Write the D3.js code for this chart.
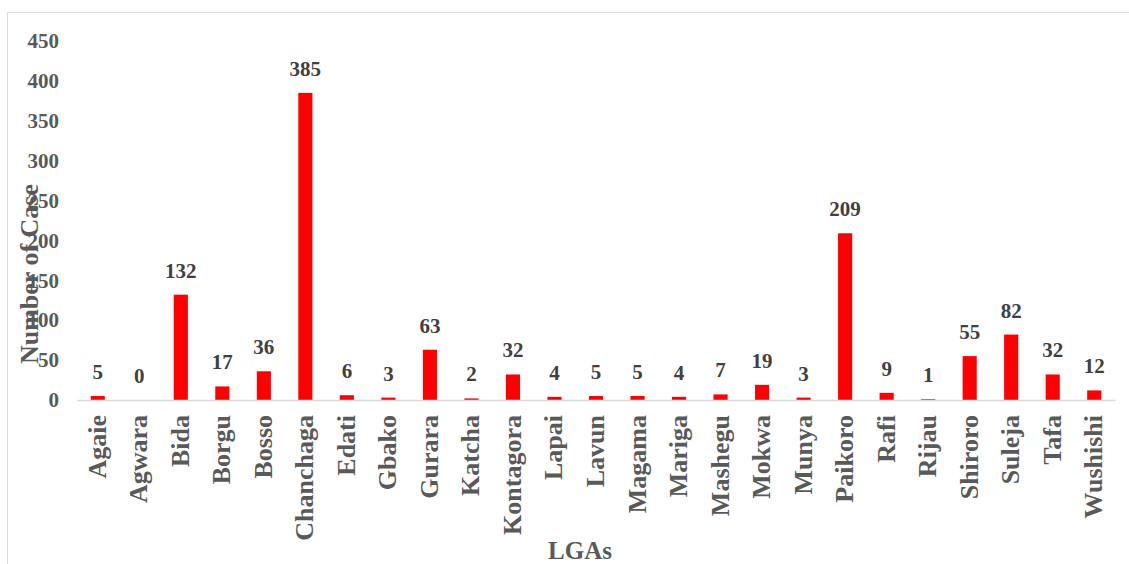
<!DOCTYPE html>
<html>
<head>
<meta charset="utf-8">
<script src="https://cdn.jsdelivr.net/npm/d3@7"></script>
<style>
  html, body { margin: 0; padding: 0; background: #fff; }
  svg { display: block; }
</style>
</head>
<body>
<svg id="chart" width="1129" height="564"></svg>
<script>
// Cases per Local Government Area
const lgas = ["Agaie","Agwara","Bida","Borgu","Bosso","Chanchaga","Edati","Gbako","Gurara","Katcha",
  "Kontagora","Lapai","Lavun","Magama","Mariga","Mashegu","Mokwa","Munya","Paikoro","Rafi",
  "Rijau","Shiroro","Suleja","Tafa","Wushishi"];
const cases = [5,0,132,17,36,385,6,3,63,2,32,4,5,5,4,7,19,3,209,9,1,55,82,32,12];
const yTicks = [0,50,100,150,200,250,300,350,400,450];

const font = (size) => `font-family:'Liberation Serif';font-weight:bold;font-size:${size}px`;

const svg = d3.select("#chart");

// outer frame (only top and left edges fall inside the view)
svg.append("rect")
  .attr("x", 7.5).attr("y", 12.5)
  .attr("width", 1140).attr("height", 600)
  .attr("fill", "none").attr("stroke", "#d9d9d9").attr("stroke-width", 1);

const x = d3.scaleBand().domain(lgas).range([77, 1115]).paddingInner(0.66).paddingOuter(0.33);
const y = d3.scaleLinear().domain([0, 450]).range([400, 41]);

// y tick labels (no axis line)
const yAxis = d3.axisLeft(y).tickValues(yTicks).tickSize(0).tickPadding(0);
const gy = svg.append("g").attr("transform", "translate(59,0)").call(yAxis);
gy.select(".domain").remove();
gy.selectAll("text")
  .attr("fill", "#595959")
  .attr("style", font(21));

// bars
svg.append("g").selectAll("rect").data(lgas).join("rect")
  .attr("x", (d) => x(d))
  .attr("width", x.bandwidth())
  .attr("y", (d, i) => y(cases[i]))
  .attr("height", (d, i) => y(0) - y(cases[i]))
  .attr("fill", "#ff0000");

// baseline and category labels
const xAxis = d3.axisBottom(x).tickSize(0).tickPadding(0);
const gx = svg.append("g").attr("transform", "translate(0,400)").call(xAxis);
gx.select(".domain").attr("stroke", "#d9d9d9").attr("stroke-width", 1.5);
gx.selectAll("text")
  .attr("fill", "#595959")
  .attr("style", font(26))
  .attr("text-anchor", "end")
  .attr("dy", null)
  .attr("y", 0)
  .attr("x", 0)
  .attr("transform", "translate(8,15) rotate(-90)");

// value labels
svg.append("g").selectAll("text").data(lgas).join("text")
  .attr("x", (d) => x(d) + x.bandwidth() / 2)
  .attr("y", (d, i) => y(cases[i]) - 17)
  .attr("text-anchor", "middle")
  .attr("fill", "#404040")
  .attr("style", font(21))
  .text((d, i) => cases[i]);

// axis titles
svg.append("text")
  .attr("transform", "translate(38,274) rotate(-90)")
  .attr("text-anchor", "middle")
  .attr("fill", "#595959")
  .attr("style", font(26))
  .text("Number of Case");

svg.append("text")
  .attr("x", 580).attr("y", 559)
  .attr("text-anchor", "middle")
  .attr("fill", "#595959")
  .attr("style", font(25))
  .text("LGAs");
</script>
</body>
</html>
